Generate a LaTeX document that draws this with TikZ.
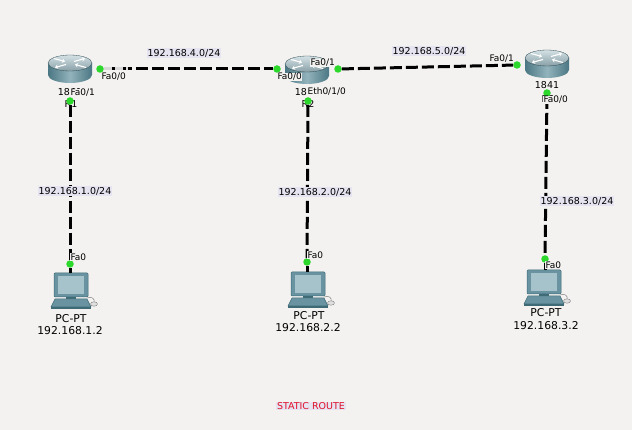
\documentclass[tikz,border=0pt]{standalone}
\usepackage{fontspec}
\setmainfont{DejaVu Sans}
\usetikzlibrary{arrows.meta}
\definecolor{bgc}{HTML}{F3F2F0}
\definecolor{lav}{HTML}{E6E4F0}
\definecolor{dotg}{HTML}{2BD82B}
\definecolor{rtop}{HTML}{9FBCC4}
\definecolor{rbody}{HTML}{4A7783}
\definecolor{rlight}{HTML}{93B3BC}
\definecolor{pcbody}{HTML}{6993A0}
\definecolor{pcdark}{HTML}{3E6A76}
\definecolor{pcscr}{HTML}{A6C2CA}
\definecolor{rred}{HTML}{E0102A}
\tikzset{
 link/.style={line width=3pt, dash pattern=on 12pt off 4pt},
 faint/.style={line width=3pt, draw=white!70!gray, dash pattern=on 8pt off 3pt},
 cable/.style={line width=3pt},
 dot/.style={circle, fill=dotg, inner sep=0pt, minimum size=7.5pt},
 net/.style={fill=lav, inner sep=0.8pt, font=\fontsize{9.5}{11}\selectfont},
 port/.style={fill=bgc, inner sep=0.4pt, anchor=west, font=\fontsize{9}{10}\selectfont},
 model/.style={inner sep=0pt, font=\fontsize{9.5}{11}\selectfont},
 pclbl/.style={inner sep=0pt, font=\fontsize{10.8}{12}\selectfont},
 rtr/.style={minimum width=44pt, minimum height=28pt, inner sep=0pt},
 pc/.style={minimum width=40pt, minimum height=36pt, inner sep=0pt},
 rarr/.style={draw=white, line width=1.1pt, -{Stealth[length=3pt,width=4.5pt]}},
}
\newcommand\rtrdraw[1]{%
 \begin{scope}[shift={(#1.center)}]
  \shade[left color=rbody, right color=rbody, middle color=rlight]
   (-22,-6) -- (-22,6) arc[start angle=180,end angle=360,x radius=22pt,y radius=8pt] -- (22,-6) -- cycle;
  \shade[top color=white!55!rtop, bottom color=rtop!85!black] (0,-6) ellipse[x radius=22pt,y radius=8pt];
  \draw[rbody!60!black, line width=0.3pt] (0,-6) ellipse[x radius=22pt,y radius=8pt];
  \draw[rarr] (-16,-10.5) -- (-5,-7.5);
  \draw[rarr] (16,-1.5) -- (5,-4.5);
  \draw[rarr] (4,-7.5) -- (15,-10.5);
  \draw[rarr] (-4,-4.5) -- (-15,-1.5);
 \end{scope}}
\newcommand\pcdraw[1]{%
 \begin{scope}[shift={(#1.center)}]
  \filldraw[fill=pcbody, draw=pcdark, line width=0.5pt, rounded corners=1pt] (-18,-18) rectangle (16,6);
  \fill[pcscr] (-14,-15) rectangle (12,3);
  \fill[pcdark] (-6,6) rectangle (4,8);
  \filldraw[fill=pcbody, draw=pcdark, line width=0.5pt] (-21,16) -- (-17,8) -- (15,8) -- (19,16) -- cycle;
  \fill[pcdark] (-21,16) rectangle (19,18);
  \draw[gray, line width=0.5pt] (15,7) .. controls (20,5) and (23,8) .. (22,11);
  \filldraw[fill=gray!25, draw=gray, line width=0.4pt] (22,13) ellipse[x radius=3.5pt,y radius=2.2pt];
 \end{scope}}
\begin{document}
\begin{tikzpicture}[x=1pt,y=-1pt]
\path[fill=bgc, use as bounding box] (0,0) rectangle (632,430);
% routers
\node[rtr] (R1) at (70,69) {};
\node[rtr] (R2) at (307,70) {};
\node[rtr] (R3) at (547,64) {};
\rtrdraw{R1}\rtrdraw{R2}\rtrdraw{R3}
\node[model] (m1) at (70,92) {1841};
\node[model] (h1) at (71,104) {R1};
\node[model] (m2) at (307,92) {1841};
\node[model] (h2) at (308,104) {R2};
\node[model] (m3) at (547,85) {1841};
\node[model] (h3) at (548,99) {R3};
% PCs
\node[pc] (PC1) at (72,291) {};
\node[pc] (PC2) at (309,290) {};
\node[pc] (PC3) at (545,288) {};
\pcdraw{PC1}\pcdraw{PC2}\pcdraw{PC3}
\node[pclbl] (t1a) at (71,319) {PC-PT};
\node[pclbl] (t1b) at (70,331) {192.168.1.2};
\node[pclbl] (t2a) at (309,316) {PC-PT};
\node[pclbl] (t2b) at (308,328) {192.168.2.2};
\node[pclbl] (t3a) at (546,313) {PC-PT};
\node[pclbl] (t3b) at (546,326) {192.168.3.2};
% interface dots
\node[dot] (r1a) at (100,69) {};
\node[dot] (r1b) at (70,101) {};
\node[dot] (r2a) at (277,69) {};
\node[dot] (r2b) at (338,69) {};
\node[dot] (r2c) at (308,101) {};
\node[dot] (r3a) at (517,65) {};
\node[dot] (r3b) at (547,93) {};
\node[dot] (p1) at (70,264) {};
\node[dot] (p2) at (307,262) {};
\node[dot] (p3) at (545,259) {};
\coordinate (fa) at (128,69);
% links
\draw[link] (r1a) -- (r2a);
\draw[faint] (r1a) -- (fa);
\draw[link] (r2b) -- (r3a);
\draw[link] (r1b) -- (p1);
\draw[link] (r2c) -- (p2);
\draw[link] (r3b) -- (p3);
\draw[cable] (p1) -- (p1 |- PC1.north);
\draw[cable] (p2) -- (p2 |- PC2.north);
\draw[cable] (p3) -- (p3 |- PC3.north);
% port labels
\node[port] (l1) at (101,77) {Fa0/0};
\node[port] (l2) at (70,93) {Fa0/1};
\node[port] (l3) at (277,77) {Fa0/0};
\node[port] (l4) at (310,63) {Fa0/1};
\node[port] (l5) at (307,92) {Eth0/1/0};
\node[port] (l6) at (489,59) {Fa0/1};
\node[port] (l7) at (543,100) {Fa0/0};
\node[port] (l8) at (70,257) {Fa0};
\node[port] (l9) at (307,255) {Fa0};
\node[port] (l10) at (545,265) {Fa0};
% network labels
\node[net] (n4) at (184,53) {192.168.4.0/24};
\node[net] (n5) at (429,51) {192.168.5.0/24};
\node[net] (n1) at (75,191) {192.168.1.0/24};
\node[net] (n2) at (315,192) {192.168.2.0/24};
\node[net] (n3) at (577,201) {192.168.3.0/24};
\node[net, text=rred] (title) at (311,406) {STATIC ROUTE};
\end{tikzpicture}
\end{document}
